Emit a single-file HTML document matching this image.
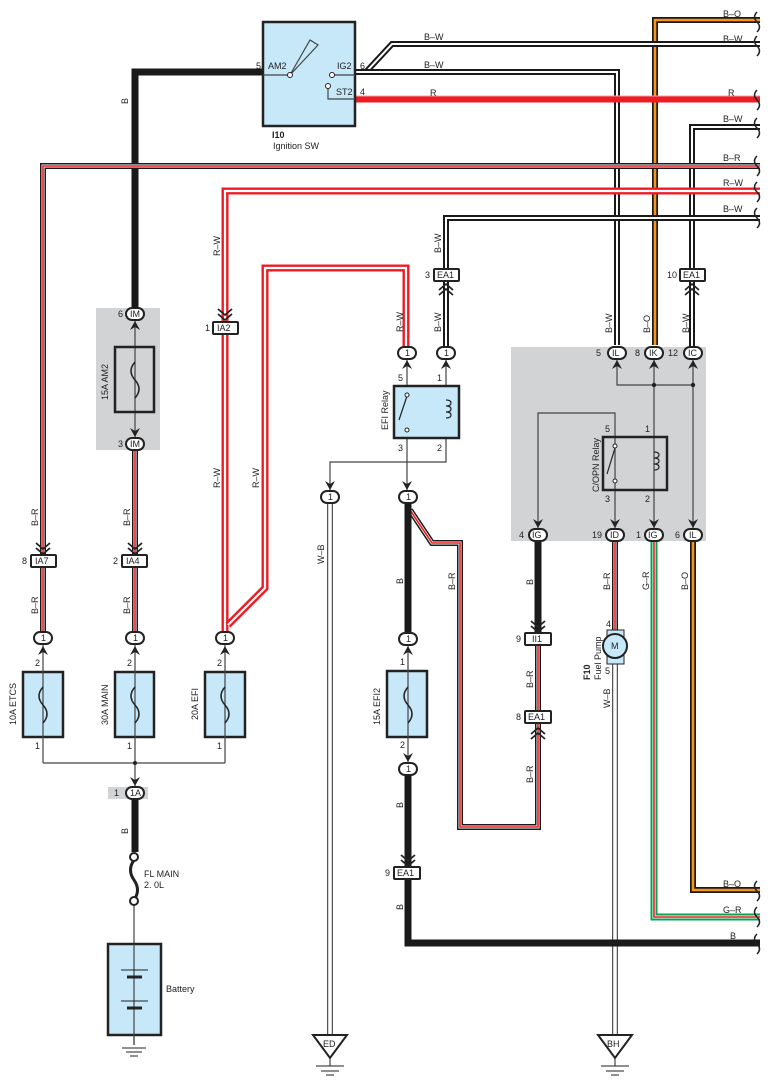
<!DOCTYPE html>
<html><head><meta charset="utf-8"><style>
html,body{margin:0;padding:0;background:#fff}
svg{display:block}
text{font-family:"Liberation Sans",sans-serif;font-size:9px;fill:#222}
.bw1{fill:none;stroke:#1a1a1a;stroke-width:6}
.bw2{fill:none;stroke:#fff;stroke-width:2}
.b{fill:none;stroke:#1a1a1a;stroke-width:7}
.r{fill:none;stroke:#ed1c24;stroke-width:7}
.br2{fill:none;stroke:#fff;stroke-width:3}
.br3{fill:none;stroke:#ed1c24;stroke-width:1.6}
.rw1{fill:none;stroke:#ed1c24;stroke-width:7}
.rw2{fill:none;stroke:#fff;stroke-width:2.2}
.bo2{fill:none;stroke:#f7941d;stroke-width:2.6}
.gr1{fill:none;stroke:#00a651;stroke-width:7}
.wb1{fill:none;stroke:#555;stroke-width:6}
.wb2{fill:none;stroke:#fff;stroke-width:3.5}
.thin{fill:none;stroke:#444;stroke-width:1.2}
.box{fill:#c6e8f8;stroke:#222;stroke-width:2.5}
.con{fill:#fff;stroke:#222;stroke-width:2}
.wav{fill:none;stroke:#222;stroke-width:1.5}
</style></head><body>
<svg width="770" height="1088" viewBox="0 0 770 1088" xmlns="http://www.w3.org/2000/svg">
<defs>
<path id="pBO" d="M760 20 H655 V345"/>
<path id="pBW1" d="M760 44 H392 L366 72"/>
<path id="pBW2" d="M355 72 H617 V345"/>
<path id="pR" d="M355 99 H760"/>
<path id="pBW3" d="M760 127 H692 V270"/>
<path id="pBW3b" d="M692 282 V348"/>
<path id="pBR" d="M760 166 H43 V555"/>
<path id="pRW" d="M760 191 H225 V322"/>
<path id="pBW4" d="M760 218 H446 V270"/>
<path id="pRW2" d="M225 332 V632"/>
<path id="pRW3" d="M406 348 V268 H265 V588 L228 625"/>
<path id="pBW5" d="M446 348 V282"/>
<path id="pBR2" d="M43 568 V632"/>
<path id="pBR3" d="M135 450 V555"/>
<path id="pBR4" d="M135 568 V632"/>
<path id="pBRloop" d="M410 510 L432 543 H460 V827 H538 V724"/>
<path id="pBR5" d="M538 645 V711"/>
<path id="pBR6" d="M615 541 V633"/>
<path id="pGR" d="M654 541 V917 H760"/>
<path id="pBO2" d="M693 541 V890 H760"/>
<path id="pWB" d="M330 503 V1038"/>
<path id="pWB2" d="M615 657 V1038"/>
</defs>

<rect x="96" y="308" width="64" height="142" fill="#d1d3d4"/>
<rect x="511" y="347" width="195" height="194" fill="#d1d3d4"/>
<rect x="108" y="787" width="40" height="12" fill="#d1d3d4"/>

<path class="b" d="M263 72 H135 V308"/>
<use href="#pBO" class="bw1"/><use href="#pBO" class="bo2"/>
<use href="#pBW1" class="bw1"/><use href="#pBW1" class="bw2"/>
<use href="#pBW2" class="bw1"/><use href="#pBW2" class="bw2"/>
<use href="#pR" class="r"/>
<path d="M355 96 H760" stroke="#f7a0a4" stroke-width="1" fill="none"/>
<use href="#pBW3" class="bw1"/><use href="#pBW3" class="bw2"/>
<use href="#pBW3b" class="bw1"/><use href="#pBW3b" class="bw2"/>
<use href="#pBR" class="bw1"/><use href="#pBR" class="br2"/><use href="#pBR" class="br3"/>
<use href="#pRW" class="rw1"/><use href="#pRW" class="rw2"/>
<use href="#pBW4" class="bw1"/><use href="#pBW4" class="bw2"/>
<use href="#pRW2" class="rw1"/><use href="#pRW2" class="rw2"/>
<use href="#pRW3" class="rw1"/><use href="#pRW3" class="rw2"/>
<use href="#pBW5" class="bw1"/><use href="#pBW5" class="bw2"/>
<use href="#pBR2" class="bw1"/><use href="#pBR2" class="br2"/><use href="#pBR2" class="br3"/>
<use href="#pBR3" class="bw1"/><use href="#pBR3" class="br2"/><use href="#pBR3" class="br3"/>
<use href="#pBR4" class="bw1"/><use href="#pBR4" class="br2"/><use href="#pBR4" class="br3"/>
<use href="#pBRloop" class="bw1"/><use href="#pBRloop" class="br2"/><use href="#pBRloop" class="br3"/>
<use href="#pBR5" class="bw1"/><use href="#pBR5" class="br2"/><use href="#pBR5" class="br3"/>
<use href="#pBR6" class="bw1"/><use href="#pBR6" class="br2"/><use href="#pBR6" class="br3"/>
<use href="#pGR" class="gr1"/><use href="#pGR" class="br2"/><use href="#pGR" class="br3"/>
<use href="#pBO2" class="bw1"/><use href="#pBO2" class="bo2"/>
<use href="#pWB" class="wb1"/><use href="#pWB" class="wb2"/>
<use href="#pWB2" class="wb1"/><use href="#pWB2" class="wb2"/>
<path class="b" d="M408 503 V633"/>
<path class="b" d="M408 775 V867"/>
<path class="b" d="M408 880 V943 H760"/>
<path class="b" d="M538 541 V633"/>
<path class="b" d="M135 799 V852"/>

<g class="wav">
<path d="M757 12 q-5 5 0 10 q5 5 0 10"/><path d="M757 36 q-5 5 0 10 q5 5 0 10"/>
<path d="M757 90 q-5 5 0 10 q5 5 0 10"/><path d="M757 118 q-5 5 0 10 q5 5 0 10"/>
<path d="M757 156 q-5 5 0 10 q5 5 0 10"/><path d="M757 182 q-5 5 0 10 q5 5 0 10"/>
<path d="M757 208 q-5 5 0 10 q5 5 0 10"/><path d="M757 881 q-5 5 0 10 q5 5 0 10"/>
<path d="M757 907 q-5 5 0 10 q5 5 0 10"/><path d="M757 934 q-5 5 0 10 q5 5 0 10"/>
</g>

<text x="723" y="17">B–O</text><text x="723" y="42">B–W</text>
<text x="424" y="68">B–W</text><text x="424" y="40">B–W</text>
<text x="728" y="96">R</text><text x="430" y="96">R</text>
<text x="723" y="122">B–W</text><text x="723" y="161">B–R</text>
<text x="723" y="186">R–W</text><text x="723" y="212">B–W</text>
<text x="723" y="887">B–O</text><text x="723" y="913">G–R</text><text x="730" y="939">B</text>

<g font-size="9">
<text transform="translate(128,104) rotate(-90)">B</text>
<text transform="translate(220,256) rotate(-90)">R–W</text>
<text transform="translate(220,488) rotate(-90)">R–W</text>
<text transform="translate(259,488) rotate(-90)">R–W</text>
<text transform="translate(403,332) rotate(-90)">R–W</text>
<text transform="translate(441,253) rotate(-90)">B–W</text>
<text transform="translate(441,332) rotate(-90)">B–W</text>
<text transform="translate(38,526) rotate(-90)">B–R</text>
<text transform="translate(38,614) rotate(-90)">B–R</text>
<text transform="translate(130,526) rotate(-90)">B–R</text>
<text transform="translate(130,614) rotate(-90)">B–R</text>
<text transform="translate(128,834) rotate(-90)">B</text>
<text transform="translate(324,564) rotate(-90)">W–B</text>
<text transform="translate(403,584) rotate(-90)">B</text>
<text transform="translate(403,808) rotate(-90)">B</text>
<text transform="translate(403,910) rotate(-90)">B</text>
<text transform="translate(455,590) rotate(-90)">B–R</text>
<text transform="translate(533,585) rotate(-90)">B</text>
<text transform="translate(533,688) rotate(-90)">B–R</text>
<text transform="translate(533,783) rotate(-90)">B–R</text>
<text transform="translate(612,333) rotate(-90)">B–W</text>
<text transform="translate(650,333) rotate(-90)">B–O</text>
<text transform="translate(689,333) rotate(-90)">B–W</text>
<text transform="translate(610,590) rotate(-90)">B–R</text>
<text transform="translate(649,590) rotate(-90)">G–R</text>
<text transform="translate(688,590) rotate(-90)">B–O</text>
<text transform="translate(610,708) rotate(-90)">W–B</text>
</g>

<rect class="box" x="263" y="22" width="92" height="104"/>
<path class="thin" d="M263 75 H290 M290 75 L310 40 L318 45 Z M332 75 H355 M328 88 V99 H355" stroke="#222"/>
<circle cx="290" cy="75" r="2.5" fill="#fff" stroke="#222"/>
<circle cx="332" cy="75" r="2.5" fill="#fff" stroke="#222"/>
<circle cx="328" cy="86" r="2.5" fill="#fff" stroke="#222"/>
<text x="268" y="69">AM2</text><text x="337" y="69">IG2</text><text x="336" y="95">ST2</text>
<text x="256" y="69">5</text><text x="360" y="69">6</text><text x="360" y="95">4</text>
<text x="272" y="138" font-weight="bold">I10</text><text x="273" y="149">Ignition SW</text>

<path class="thin" d="M135 320 V438"/>
<rect x="115" y="347" width="39" height="65" fill="none" stroke="#222" stroke-width="2.5"/>
<path d="M135 362 q-8 9 0 18 q8 9 0 18" fill="none" stroke="#222" stroke-width="1.5"/>
<text transform="translate(108,400) rotate(-90)">15A AM2</text>

<g>
<rect class="box" x="23" y="672" width="40" height="65"/>
<rect class="box" x="115" y="672" width="39" height="65"/>
<rect class="box" x="205" y="672" width="40" height="65"/>
<rect class="box" x="387" y="671" width="40" height="66"/>
<path class="thin" d="M43 645 V763 M135 645 V787 M225 645 V763 M43 763 H225 M408 645 V763"/>
<path d="M43 687 q-8 9 0 18 q8 9 0 18 M135 687 q-8 9 0 18 q8 9 0 18 M225 687 q-8 9 0 18 q8 9 0 18 M408 687 q-8 9 0 18 q8 9 0 18" fill="none" stroke="#222" stroke-width="1.5"/>
<circle cx="135" cy="763" r="2" fill="#222"/>
<text transform="translate(16,725) rotate(-90)">10A ETCS</text>
<text transform="translate(108,725) rotate(-90)">30A MAIN</text>
<text transform="translate(198,720) rotate(-90)">20A EFI</text>
<text transform="translate(380,725) rotate(-90)">15A EFI2</text>
<text x="35" y="666">2</text><text x="127" y="666">2</text><text x="217" y="666">2</text><text x="400" y="665">1</text>
<text x="35" y="749">1</text><text x="127" y="749">1</text><text x="217" y="749">1</text><text x="400" y="748">2</text>
</g>

<path class="thin" d="M134 905 V1045"/>
<path d="M134 860 q-7 10 0 20 q7 10 0 20" fill="none" stroke="#222" stroke-width="3"/>
<circle cx="134" cy="857" r="4" fill="#fff" stroke="#222" stroke-width="2"/>
<circle cx="134" cy="901" r="4" fill="#fff" stroke="#222" stroke-width="2"/>
<text x="144" y="877">FL MAIN</text><text x="144" y="888">2. 0L</text>
<rect class="box" x="108" y="944" width="53" height="91"/>
<path class="thin" d="M134 944 V1045"/>
<path d="M121 970 H148 M121 1001 H148" stroke="#222" stroke-width="1"/>
<path d="M127 977 H142 M127 1008 H142" stroke="#222" stroke-width="3"/>
<path d="M122 1048 H146 M126 1052 H142 M130 1056 H138" stroke="#222" stroke-width="1"/>
<text x="166" y="992">Battery</text>

<path class="thin" d="M407 360 V503 M446 360 V462 H330 V503"/>
<rect class="box" x="394" y="386" width="65" height="52"/>
<path d="M407 396 L399 420" stroke="#222" stroke-width="1.2"/>
<circle cx="407" cy="395" r="2" fill="#fff" stroke="#222"/>
<circle cx="407" cy="430" r="2" fill="#fff" stroke="#222"/>
<path d="M446 400 q5 0 5 3 q0 3 -5 3 q5 0 5 3 q0 3 -5 3 q5 0 5 3 q0 3 -5 3" fill="none" stroke="#222" stroke-width="1.2"/>
<text transform="translate(388,430) rotate(-90)">EFI Relay</text>
<text x="398" y="381">5</text><text x="437" y="381">1</text><text x="398" y="451">3</text><text x="437" y="451">2</text>

<path class="thin" d="M617 360 V385 H693 M654 360 V530 M693 360 V530 M538 530 V413 H615 V530"/>
<circle cx="654" cy="385" r="2.2" fill="#222"/><circle cx="693" cy="385" r="2.2" fill="#222"/>
<rect x="603" y="437" width="64" height="53" fill="none" stroke="#222" stroke-width="2.5"/>
<path d="M615 448 L607 474" stroke="#222" stroke-width="1.2"/>
<circle cx="615" cy="446" r="2" fill="#fff" stroke="#222"/>
<circle cx="615" cy="481" r="2" fill="#fff" stroke="#222"/>
<path d="M654 452 q5 0 5 3 q0 3 -5 3 q5 0 5 3 q0 3 -5 3 q5 0 5 3 q0 3 -5 3" fill="none" stroke="#222" stroke-width="1.2"/>
<text transform="translate(599,492) rotate(-90)">C/OPN Relay</text>
<text x="605" y="432">5</text><text x="645" y="432">1</text><text x="605" y="502">3</text><text x="645" y="502">2</text>

<rect x="607" y="630" width="17" height="34" fill="#c6e8f8" stroke="#222"/>
<circle cx="615" cy="646" r="12" fill="#c6e8f8" stroke="#222" stroke-width="2"/>
<text x="611" y="649" font-size="8">M</text>
<text x="606" y="627" font-size="8">4</text><text x="605" y="674" font-size="8">5</text>
<text transform="translate(590,680) rotate(-90)" font-weight="bold">F10</text>
<text transform="translate(601,680) rotate(-90)">Fuel Pump</text>

<path d="M313 1035 H347 L330 1058 Z M598 1035 H632 L615 1058 Z" fill="#fff" stroke="#222" stroke-width="2"/>
<text x="323" y="1047">ED</text><text x="607" y="1047">BH</text>
<path d="M330 1058 V1066 M316 1066 H344 M321 1071 H339 M326 1075 H334 M615 1058 V1066 M601 1066 H629 M606 1071 H624 M611 1075 H619" stroke="#222" stroke-width="1"/>

<g font-size="8.5">
<rect class="con" x="126" y="308" width="18" height="12" rx="6"/><text x="130" y="317">IM</text><text x="118" y="317">6</text>
<rect class="con" x="126" y="438" width="18" height="12" rx="6"/><text x="130" y="447">IM</text><text x="118" y="447">3</text>
<rect class="con" x="126" y="787" width="18" height="12" rx="6"/><text x="130" y="796">1A</text><text x="114" y="796">1</text>
<rect class="con" x="398" y="347" width="18" height="12" rx="6"/><text x="405" y="356">1</text>
<rect class="con" x="437" y="347" width="18" height="12" rx="6"/><text x="444" y="356">1</text>
<rect class="con" x="321" y="491" width="18" height="12" rx="6"/><text x="328" y="500">1</text>
<rect class="con" x="399" y="491" width="18" height="12" rx="6"/><text x="406" y="500">1</text>
<rect class="con" x="34" y="632" width="18" height="12" rx="6"/><text x="41" y="641">1</text>
<rect class="con" x="126" y="632" width="18" height="12" rx="6"/><text x="133" y="641">1</text>
<rect class="con" x="216" y="632" width="18" height="12" rx="6"/><text x="223" y="641">1</text>
<rect class="con" x="399" y="633" width="18" height="12" rx="6"/><text x="406" y="642">1</text>
<rect class="con" x="399" y="763" width="18" height="12" rx="6"/><text x="406" y="772">1</text>
<rect class="con" x="608" y="347" width="18" height="12" rx="6"/><text x="612" y="356">IL</text><text x="596" y="356">5</text>
<rect class="con" x="645" y="347" width="18" height="12" rx="6"/><text x="649" y="356">IK</text><text x="635" y="356">8</text>
<rect class="con" x="684" y="347" width="18" height="12" rx="6"/><text x="688" y="356">IC</text><text x="668" y="356">12</text>
<rect class="con" x="529" y="529" width="18" height="12" rx="6"/><text x="532" y="538">IG</text><text x="519" y="538">4</text>
<rect class="con" x="606" y="529" width="18" height="12" rx="6"/><text x="610" y="538">ID</text><text x="592" y="538">19</text>
<rect class="con" x="645" y="529" width="18" height="12" rx="6"/><text x="648" y="538">IG</text><text x="636" y="538">1</text>
<rect class="con" x="684" y="529" width="18" height="12" rx="6"/><text x="689" y="538">IL</text><text x="675" y="538">6</text>
<rect class="con" x="213" y="322" width="25" height="12" rx="1"/><text x="217" y="331">IA2</text><text x="205" y="331">1</text>
<rect class="con" x="434" y="269" width="25" height="12" rx="1"/><text x="437" y="278">EA1</text><text x="425" y="278">3</text>
<rect class="con" x="680" y="269" width="25" height="12" rx="1"/><text x="683" y="278">EA1</text><text x="667" y="278">10</text>
<rect class="con" x="31" y="555" width="25" height="12" rx="1"/><text x="35" y="564">IA7</text><text x="22" y="564">8</text>
<rect class="con" x="122" y="555" width="25" height="12" rx="1"/><text x="126" y="564">IA4</text><text x="113" y="564">2</text>
<rect class="con" x="525" y="633" width="26" height="12" rx="1"/><text x="532" y="642">II1</text><text x="516" y="642">9</text>
<rect class="con" x="525" y="711" width="26" height="12" rx="1"/><text x="528" y="720">EA1</text><text x="516" y="720">8</text>
<rect class="con" x="394" y="867" width="26" height="12" rx="1"/><text x="397" y="876">EA1</text><text x="385" y="876">9</text>
</g>

<g fill="none" stroke="#222" stroke-width="1.8">
<path d="M218 309 l7 6 l7 -6 M218 314 l7 6 l7 -6"/>
<path d="M439 290 l7 -6 l7 6 M439 295 l7 -6 l7 6"/>
<path d="M685 290 l7 -6 l7 6 M685 295 l7 -6 l7 6"/>
<path d="M36 543 l7 6 l7 -6 M36 548 l7 6 l7 -6"/>
<path d="M128 543 l7 6 l7 -6 M128 548 l7 6 l7 -6"/>
<path d="M531 621 l7 6 l7 -6 M531 626 l7 6 l7 -6"/>
<path d="M531 734 l7 -6 l7 6 M531 739 l7 -6 l7 6"/>
<path d="M401 855 l7 6 l7 -6 M401 860 l7 6 l7 -6"/>
</g>
<g fill="#222">
<!-- up arrows (below connector) -->
<path d="M130 330 L135 321 L140 330 L135 327 Z"/>
<path d="M38 655 L43 646 L48 655 L43 652 Z"/>
<path d="M130 655 L135 646 L140 655 L135 652 Z"/>
<path d="M220 655 L225 646 L230 655 L225 652 Z"/>
<path d="M403 655 L408 646 L413 655 L408 652 Z"/>
<path d="M402 369 L407 360 L412 369 L407 366 Z"/>
<path d="M441 369 L446 360 L451 369 L446 366 Z"/>
<path d="M612 369 L617 360 L622 369 L617 366 Z"/>
<path d="M649 369 L654 360 L659 369 L654 366 Z"/>
<path d="M688 369 L693 360 L698 369 L693 366 Z"/>
<!-- down arrows (above connector) -->
<path d="M130 428 L135 437 L140 428 L135 431 Z"/>
<path d="M130 777 L135 786 L140 777 L135 780 Z"/>
<path d="M403 753 L408 762 L413 753 L408 756 Z"/>
<path d="M325 481 L330 490 L335 481 L330 484 Z"/>
<path d="M402 481 L407 490 L412 481 L407 484 Z"/>
<path d="M533 519 L538 528 L543 519 L538 522 Z"/>
<path d="M610 519 L615 528 L620 519 L615 522 Z"/>
<path d="M649 519 L654 528 L659 519 L654 522 Z"/>
<path d="M688 519 L693 528 L698 519 L693 522 Z"/>
</g>
</svg>
</body></html>
